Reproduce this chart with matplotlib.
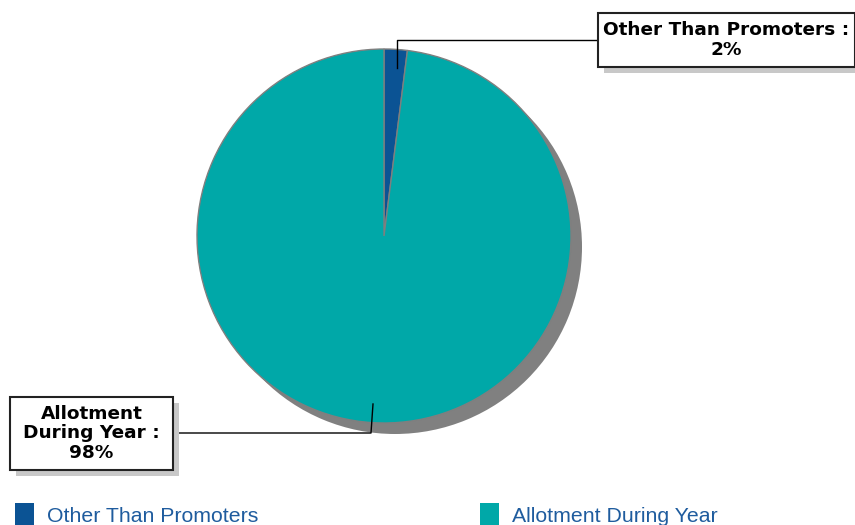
import matplotlib
matplotlib.use('Agg')
from matplotlib import pyplot as plt
from matplotlib.patches import Rectangle

labels = ['Other Than Promoters', 'Allotment During Year']
values = [2, 98]
colors = ['#0b5394', '#00a8a8']
box_texts = ['Other Than Promoters :\n2%', 'Allotment\nDuring Year :\n98%']

W, H = 855, 525
fig = plt.figure(figsize=(8.55, 5.25), dpi=100)
ax = fig.add_axes([0, 0, 1, 1])

cx, cy, r = 384, H - 236, 187

# shadow
ax.pie([sum(values)], colors=['#808080'], radius=r, center=(cx + 11, cy - 11),
       wedgeprops=dict(linewidth=0), frame=True)
wedges, _ = ax.pie(values, colors=colors, radius=r, center=(cx, cy), startangle=90,
                   counterclock=False, frame=True,
                   wedgeprops=dict(edgecolor='#7f7f7f', linewidth=1))
ax.set_xlim(0, W)
ax.set_ylim(0, H)
ax.axis('off')

# label boxes
def box(x0, y0, x1, y1, text):
    ax.add_patch(Rectangle((x0 + 6, H - y1 - 6), x1 - x0, y1 - y0, facecolor='#c8c8c8',
                           edgecolor='none', zorder=5))
    ax.add_patch(Rectangle((x0, H - y1), x1 - x0, y1 - y0, facecolor='white',
                           edgecolor='#222222', linewidth=1.5, zorder=6))
    ax.text((x0 + x1) / 2, H - (y0 + y1) / 2, text, ha='center', va='center',
            fontsize=13.3, fontweight='bold', family='DejaVu Sans', zorder=7,
            linespacing=1.1)

box(598, 13, 855, 67, box_texts[0])
box(10, 397, 173, 470, box_texts[1])

# connector lines
ax.plot([397, 397, 598], [H - 68, H - 40, H - 40], color='black', lw=1, zorder=4)
ax.plot([373, 371, 173], [H - 404, H - 433, H - 433], color='black', lw=1, zorder=4)

# legend
for lx, lab, col in [(15, labels[0], colors[0]), (480, labels[1], colors[1])]:
    ax.add_patch(Rectangle((lx, H - 525), 19, 22, facecolor=col, edgecolor='none'))
    ax.text(lx + 32, H - 517, lab, fontsize=15.3, family='Liberation Sans',
            color='#1f5c9e', va='center', ha='left')

fig.savefig('out.png', dpi=100)
